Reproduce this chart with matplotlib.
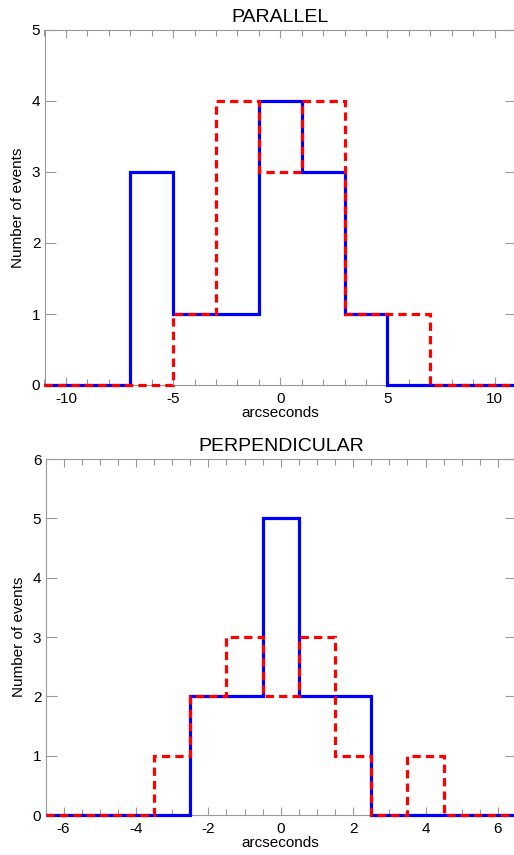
import matplotlib
matplotlib.use('Agg')
import matplotlib.pyplot as plt
from matplotlib.ticker import MultipleLocator

plt.rcParams['font.family'] = ['Liberation Sans', 'DejaVu Sans']
plt.rcParams['axes.unicode_minus'] = False

# bin edges and counts (parallel)
par_edges = [-11, -9, -7, -5, -3, -1, 1, 3, 5, 7, 9, 11]
par_blue = [0, 0, 3, 1, 1, 4, 3, 1, 0, 0, 0]
par_red = [0, 0, 0, 1, 4, 3, 4, 1, 1, 0, 0]

# bin edges and counts (perpendicular)
perp_edges = [-6.5, -5.5, -4.5, -3.5, -2.5, -1.5, -0.5, 0.5, 1.5, 2.5, 3.5, 4.5, 5.5, 6.5]
perp_blue = [0, 0, 0, 0, 2, 2, 5, 2, 2, 0, 0, 0, 0]
perp_red = [0, 0, 0, 1, 2, 3, 2, 3, 1, 0, 1, 0, 0]

W, H = 514, 855
fig = plt.figure(figsize=(W / 100, H / 100), dpi=100)
fig.patch.set_facecolor('white')


def panel(rect, edges, blue, red, title, xlim, ylim, xmaj, xmin):
    l, t, r, b = rect
    ax = fig.add_axes([l / W, 1 - b / H, (r - l) / W, (b - t) / H])
    ax.stairs(blue, edges, color='blue', linewidth=2.3, baseline=None,
              clip_on=False, zorder=3)
    ax.stairs(red, edges, color='red', linewidth=2.3, baseline=None,
              linestyle=(0, (2.6, 1.6)), clip_on=False, zorder=4)
    ax.set_xlim(xlim)
    ax.set_ylim(ylim)
    ax.xaxis.set_major_locator(MultipleLocator(xmaj))
    ax.xaxis.set_minor_locator(MultipleLocator(xmin))
    ax.yaxis.set_major_locator(MultipleLocator(1))
    ax.tick_params(which='both', direction='in', top=True, right=True,
                   color='0.6', labelsize=11, width=0.8)
    ax.tick_params(which='major', length=6, pad=5)
    ax.tick_params(which='minor', length=4)
    ax.tick_params(axis='y', which='major', length=8, pad=3)
    for s in ax.spines.values():
        s.set_color('0.6')
        s.set_linewidth(0.8)
    ax.set_title(title, fontsize=14, pad=6)
    ax.set_xlabel('arcseconds', fontsize=11, labelpad=0)
    ax.set_ylabel('Number of events', fontsize=11, labelpad=5)
    return ax


panel((44.5, 30, 516, 385), par_edges, par_blue, par_red, 'PARALLEL',
      (-11, 11), (0, 5), 5, 1)
panel((45.5, 459, 516, 815), perp_edges, perp_blue, perp_red, 'PERPENDICULAR',
      (-6.5, 6.5), (0, 6), 2, 0.5)

fig.savefig('out.png', dpi=100)
